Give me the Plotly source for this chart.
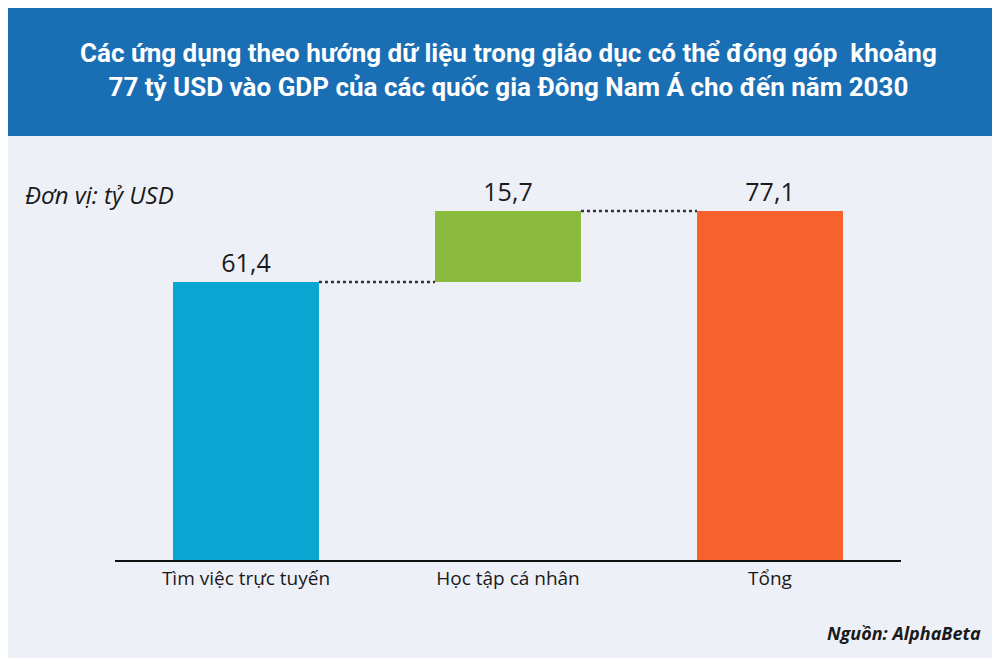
import plotly.graph_objects as go

categories = ["Tìm việc trực tuyến", "Học tập cá nhân", "Tổng"]
values = [61.4, 15.7, 77.1]
bases = [0, 61.4, 0]
labels = ["61,4", "15,7", "77,1"]
colors = ["#0aa5d0", "#8bbb3d", "#f7612d"]

W, H = 1000, 658
ml, mr, mt, mb = 107, 107, 140, 106
pw, ph = W - ml - mr, H - mt - mb
bw = 0.557

def px(x):
    return (x - ml) / pw

def py(y):
    return (H - mb - y) / ph

fig = go.Figure()
fig.add_trace(go.Bar(
    x=list(range(3)), y=values, base=bases, width=bw,
    marker=dict(color=colors, line=dict(width=0)),
    text=labels, textposition="outside", cliponaxis=False,
    textfont=dict(size=25, color="#1a1a1a", family="Open Sans"),
    hoverinfo="skip",
))

shapes = []
# header band
shapes.append(dict(type="rect", xref="paper", yref="paper", x0=px(0), x1=px(W),
                   y0=py(128), y1=py(0), fillcolor="#1a6eb4", line=dict(width=0), layer="below"))
# connectors
tops = [b + v for b, v in zip(bases, values)]
for i in range(2):
    shapes.append(dict(type="line", xref="x", yref="y", x0=i + bw / 2, x1=i + 1 - bw / 2,
                       y0=tops[i], y1=tops[i], line=dict(color="#333", width=2.5, dash="dot")))

fig.update_layout(
    width=W, height=H, margin=dict(l=ml, r=mr, t=mt, b=mb),
    paper_bgcolor="#eef0f8", plot_bgcolor="#eef0f8",
    showlegend=False, shapes=shapes,
    xaxis=dict(range=[-0.5, 2.5], tickvals=list(range(3)), ticktext=categories,
               showgrid=False, zeroline=False, showline=True, linecolor="#111", linewidth=2,
               ticks="", tickfont=dict(size=19, color="#1a1a1a", family="Open Sans"), fixedrange=True),
    yaxis=dict(range=[0, 91], visible=False, fixedrange=True),
    font=dict(family="Open Sans"),
    annotations=[
        dict(text="<b>Các ứng dụng theo hướng dữ liệu trong giáo dục có thể đóng góp  khoảng<br>"
                  "77 tỷ USD vào GDP của các quốc gia Đông Nam Á cho đến năm 2030</b>",
             xref="paper", yref="paper", x=px(500), y=py(62), xanchor="center", yanchor="middle",
             showarrow=False, font=dict(size=26, color="white", family="Liberation Sans Narrow, Roboto"),
             align="center"),
        dict(text="<i>Đơn vị: tỷ USD</i>", xref="paper", yref="paper", x=px(15), y=py(187),
             xanchor="left", yanchor="middle", showarrow=False,
             font=dict(size=24, color="#1a1a1a")),
        dict(text="<b><i>Nguồn: AlphaBeta</i></b>", xref="paper", yref="paper", x=px(975), y=py(625),
             xanchor="right", yanchor="middle", showarrow=False,
             font=dict(size=18, color="#1a1a1a")),
    ],
)

fig.write_html("out.html")
